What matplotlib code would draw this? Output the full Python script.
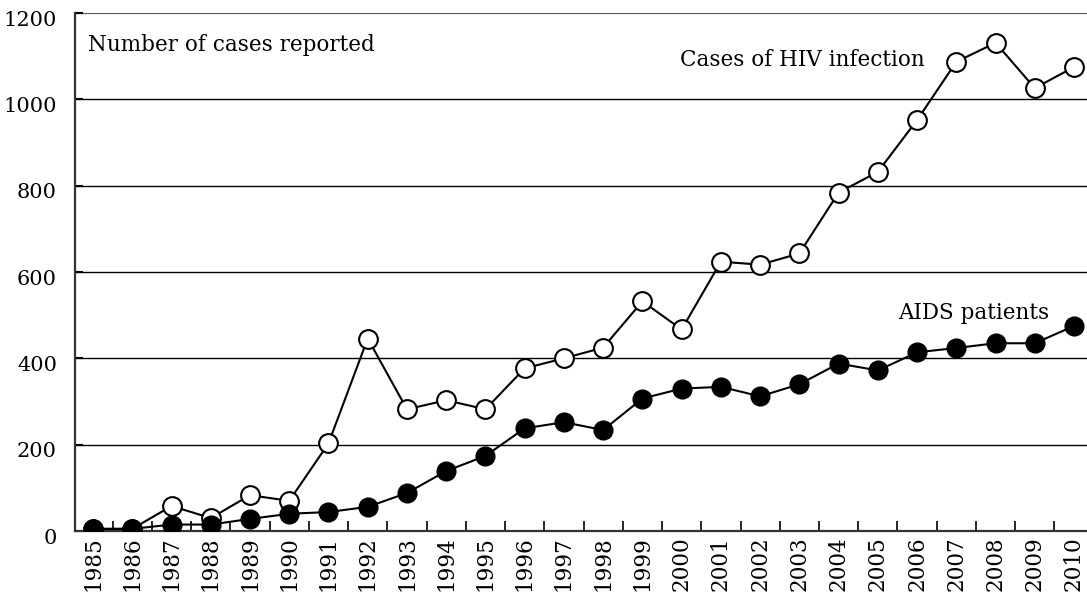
import matplotlib.pyplot as plt
import matplotlib.transforms as mtransforms
from matplotlib.ticker import FixedLocator

years = list(range(1985, 2011))
hiv_cases = [5, 5, 58, 30, 83, 70, 203, 446, 282, 303, 282, 377, 400, 425,
             532, 467, 624, 617, 643, 784, 832, 952, 1087, 1131, 1026, 1075]
aids_patients = [5, 5, 15, 15, 28, 40, 44, 56, 88, 139, 174, 238, 252, 234,
                 307, 330, 334, 312, 340, 388, 372, 414, 424, 435, 435, 475]
y_ticks = [0, 200, 400, 600, 800, 1000, 1200]

plt.rcParams['font.family'] = ['DejaVu Serif']

fig = plt.figure(figsize=(10.87, 5.92), dpi=100)
ax = fig.add_axes([0.069, 0.103, 0.931, 0.875])

for y in y_ticks[1:-1]:
    ax.axhline(y, color='black', lw=1.0, zorder=1)
ax.axhline(1200, color='#555555', lw=1.6, zorder=1)

ax.plot(years, hiv_cases, color='black', lw=1.5, marker='o', ms=13.5,
        mfc='white', mec='black', mew=1.5, zorder=3)
ax.plot(years, aids_patients, color='black', lw=1.5, marker='o', ms=13.5,
        mfc='black', mec='black', zorder=4)

ax.set_xlim(1984.54, 2010.33)
ax.set_ylim(0, 1200)
ax.set_yticks(y_ticks)
ax.set_xticks(years)
ax.set_xticklabels([str(y) for y in years], rotation=90, fontsize=15.5)
ax.xaxis.set_minor_locator(FixedLocator([y + 0.5 for y in years[:-1]]))
ax.tick_params(axis='x', which='major', length=0, pad=4)
ax.tick_params(axis='x', which='minor', direction='in', length=7, width=1.2)
ax.tick_params(axis='y', direction='in', length=6, width=1.5, pad=13, labelsize=15)

# y labels sit a little below their grid lines in the original
shift = mtransforms.ScaledTranslation(0, -5 / 100, fig.dpi_scale_trans)
for lbl in ax.get_yticklabels():
    lbl.set_transform(lbl.get_transform() + shift)

for s in ['top', 'right']:
    ax.spines[s].set_visible(False)
ax.spines['left'].set_color('#333333')
ax.spines['left'].set_linewidth(1.6)
ax.spines['bottom'].set_color('#333333')
ax.spines['bottom'].set_linewidth(1.6)

ax.text(1984.87, 1126, 'Number of cases reported', fontsize=15.5, va='center', ha='left')
ax.text(2006.2, 1091, 'Cases of HIV infection', fontsize=15.5, va='center', ha='right')
ax.text(2007.45, 505, 'AIDS patients', fontsize=15.5, va='center', ha='center')

fig.savefig('out.png', dpi=100)
